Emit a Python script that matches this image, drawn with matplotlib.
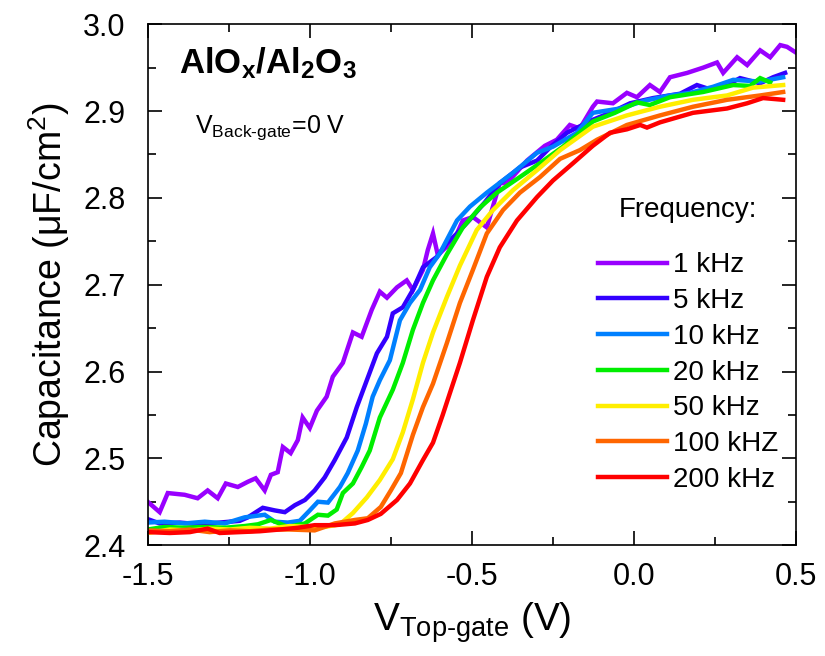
import numpy as np
import matplotlib
matplotlib.use('Agg')
import matplotlib.pyplot as plt
from matplotlib.ticker import MultipleLocator

#%% style
plt.rcParams['font.family'] = ['Liberation Sans', 'DejaVu Sans']
plt.rcParams['mathtext.fontset'] = 'custom'
plt.rcParams['mathtext.rm'] = 'Liberation Sans'
plt.rcParams['mathtext.it'] = 'Liberation Sans:italic'
plt.rcParams['mathtext.bf'] = 'Liberation Sans:bold'
plt.rcParams['mathtext.sf'] = 'Liberation Sans'
plt.rcParams['mathtext.default'] = 'rm'

#%% data
labels = ['1 kHz', '5 kHz', '10 kHz', '20 kHz', '50 kHz', '100 kHZ', '200 kHz']
colors = ['#9900ff', '#3300ff', '#0080ff', '#00ee00', '#ffee00', '#ff6600', '#ff0000']

v_1k = [-1.5, -1.463, -1.438, -1.386, -1.346, -1.315, -1.284, -1.259, -1.222, -1.191,
        -1.167, -1.139, -1.120, -1.099, -1.083, -1.059, -1.037, -1.022, -1.000, -0.978,
        -0.948, -0.929, -0.898, -0.867, -0.840, -0.809, -0.784, -0.762, -0.731, -0.701,
        -0.682, -0.651, -0.636, -0.620, -0.605, -0.583, -0.559, -0.528, -0.497, -0.454,
        -0.414, -0.392, -0.330, -0.275, -0.238, -0.198, -0.167, -0.127, -0.114, -0.065,
        -0.022, 0.009, 0.049, 0.080, 0.111, 0.164, 0.213, 0.256, 0.275, 0.318,
        0.349, 0.389, 0.420, 0.451, 0.472, 0.497]
c_1k = [2.450, 2.438, 2.460, 2.458, 2.454, 2.463, 2.454, 2.471, 2.467, 2.473,
        2.477, 2.463, 2.481, 2.484, 2.513, 2.506, 2.521, 2.547, 2.535, 2.555,
        2.571, 2.594, 2.610, 2.645, 2.640, 2.671, 2.692, 2.685, 2.697, 2.705,
        2.694, 2.717, 2.740, 2.759, 2.734, 2.742, 2.748, 2.774, 2.778, 2.766,
        2.817, 2.817, 2.843, 2.860, 2.867, 2.884, 2.880, 2.905, 2.911, 2.909,
        2.921, 2.916, 2.930, 2.922, 2.939, 2.944, 2.950, 2.956, 2.944, 2.962,
        2.953, 2.970, 2.962, 2.976, 2.974, 2.968]

v_5k = [-1.5, -1.463, -1.401, -1.340, -1.278, -1.216, -1.191, -1.145, -1.108, -1.077,
        -1.046, -1.015, -0.985, -0.954, -0.923, -0.886, -0.855, -0.824, -0.793, -0.762,
        -0.744, -0.713, -0.682, -0.651, -0.608, -0.577, -0.546, -0.506, -0.460, -0.414,
        -0.352, -0.299, -0.259, -0.207, -0.127, -0.074, -0.012, 0.059, 0.142, 0.194,
        0.235, 0.287, 0.327, 0.389, 0.429, 0.466]
c_5k = [2.430, 2.425, 2.426, 2.424, 2.426, 2.428, 2.432, 2.443, 2.440, 2.438,
        2.446, 2.452, 2.463, 2.478, 2.498, 2.524, 2.559, 2.590, 2.621, 2.640,
        2.667, 2.674, 2.694, 2.720, 2.732, 2.748, 2.759, 2.775, 2.795, 2.817,
        2.835, 2.843, 2.858, 2.875, 2.890, 2.898, 2.909, 2.915, 2.920, 2.930,
        2.925, 2.930, 2.938, 2.932, 2.939, 2.944]

v_10k = [-1.5, -1.448, -1.386, -1.324, -1.262, -1.201, -1.139, -1.108, -1.068, -1.031,
         -1.000, -0.975, -0.944, -0.907, -0.883, -0.852, -0.827, -0.806, -0.784, -0.753,
         -0.722, -0.691, -0.660, -0.630, -0.599, -0.546, -0.506, -0.454, -0.373, -0.299,
         -0.250, -0.176, -0.127, -0.043, 0.034, 0.111, 0.173, 0.244, 0.306, 0.389, 0.460]
c_10k = [2.426, 2.427, 2.425, 2.427, 2.425, 2.432, 2.435, 2.427, 2.426, 2.428,
         2.440, 2.450, 2.449, 2.467, 2.483, 2.509, 2.540, 2.571, 2.590, 2.613,
         2.659, 2.679, 2.694, 2.720, 2.736, 2.774, 2.790, 2.806, 2.829, 2.852,
         2.859, 2.875, 2.898, 2.903, 2.912, 2.918, 2.921, 2.928, 2.936, 2.934, 2.939]

v_20k = [-1.5, -1.448, -1.386, -1.324, -1.262, -1.201, -1.160, -1.120, -1.068, -1.015,
         -0.975, -0.944, -0.917, -0.898, -0.867, -0.840, -0.815, -0.784, -0.744, -0.713,
         -0.682, -0.651, -0.620, -0.577, -0.528, -0.475, -0.423, -0.352, -0.290, -0.219,
         -0.127, -0.059, 0.009, 0.049, 0.111, 0.213, 0.306, 0.358, 0.389, 0.420]
c_20k = [2.418, 2.421, 2.420, 2.421, 2.420, 2.422, 2.424, 2.429, 2.421, 2.425,
         2.435, 2.434, 2.441, 2.460, 2.471, 2.490, 2.509, 2.547, 2.579, 2.610,
         2.648, 2.679, 2.705, 2.735, 2.766, 2.789, 2.806, 2.824, 2.840, 2.859,
         2.888, 2.898, 2.910, 2.907, 2.916, 2.922, 2.930, 2.929, 2.938, 2.933]

v_50k = [-1.5, -1.432, -1.370, -1.309, -1.247, -1.185, -1.123, -1.062, -1.000, -0.954,
         -0.907, -0.867, -0.824, -0.784, -0.744, -0.713, -0.682, -0.651, -0.620, -0.577,
         -0.537, -0.485, -0.435, -0.373, -0.299, -0.228, -0.127, -0.022, 0.080, 0.182,
         0.287, 0.367, 0.460]
c_50k = [2.414, 2.418, 2.417, 2.419, 2.418, 2.420, 2.419, 2.422, 2.421, 2.421,
         2.424, 2.437, 2.455, 2.475, 2.499, 2.530, 2.568, 2.610, 2.645, 2.686,
         2.722, 2.763, 2.786, 2.809, 2.832, 2.855, 2.882, 2.895, 2.905, 2.913,
         2.918, 2.927, 2.930]

v_100k = [-1.5, -1.432, -1.370, -1.309, -1.247, -1.185, -1.123, -1.062, -0.985, -0.923,
          -0.861, -0.821, -0.781, -0.750, -0.719, -0.682, -0.651, -0.620, -0.577, -0.537,
          -0.497, -0.454, -0.404, -0.352, -0.290, -0.228, -0.167, -0.114, -0.022, 0.080,
          0.182, 0.287, 0.389, 0.460]
c_100k = [2.417, 2.416, 2.418, 2.415, 2.417, 2.416, 2.418, 2.418, 2.417, 2.425,
          2.429, 2.431, 2.444, 2.463, 2.483, 2.527, 2.559, 2.586, 2.633, 2.679,
          2.717, 2.759, 2.786, 2.806, 2.824, 2.845, 2.855, 2.867, 2.884, 2.895,
          2.905, 2.913, 2.918, 2.922]

v_200k = [-1.5, -1.432, -1.370, -1.315, -1.278, -1.216, -1.154, -1.093, -1.037, -0.985,
          -0.923, -0.861, -0.821, -0.781, -0.731, -0.691, -0.651, -0.620, -0.590, -0.568,
          -0.537, -0.497, -0.454, -0.414, -0.361, -0.299, -0.250, -0.188, -0.127, -0.074,
          -0.022, 0.019, 0.040, 0.080, 0.182, 0.287, 0.349, 0.398, 0.460]
c_200k = [2.415, 2.414, 2.415, 2.419, 2.414, 2.415, 2.416, 2.418, 2.420, 2.423,
          2.423, 2.425, 2.429, 2.436, 2.452, 2.471, 2.498, 2.518, 2.550, 2.575,
          2.610, 2.659, 2.709, 2.743, 2.774, 2.801, 2.820, 2.840, 2.860, 2.875,
          2.879, 2.884, 2.881, 2.887, 2.898, 2.903, 2.909, 2.915, 2.913]

volts = [v_1k, v_5k, v_10k, v_20k, v_50k, v_100k, v_200k]
caps = [c_1k, c_5k, c_10k, c_20k, c_50k, c_100k, c_200k]

#%% plot
fig = plt.figure(figsize=(8.25, 6.56), dpi=100)
ax = fig.add_axes([0.179, 0.169, 0.786, 0.794])

for v, c, lab, col in zip(volts, caps, labels, colors):
    ax.plot(v, c, color=col, lw=3.2, label=lab, solid_joinstyle='miter')

ax.set_xlim(-1.5, 0.5)
ax.set_ylim(2.4, 3.0)
ax.xaxis.set_major_locator(MultipleLocator(0.5))
ax.xaxis.set_minor_locator(MultipleLocator(0.25))
ax.yaxis.set_major_locator(MultipleLocator(0.1))
ax.yaxis.set_minor_locator(MultipleLocator(0.05))
ax.tick_params(which='both', direction='in', top=True, right=True, width=1.2, labelsize=22)
ax.tick_params(which='major', length=10)
ax.tick_params(which='minor', length=6)
ax.tick_params(axis='x', which='major', pad=12)
ax.tick_params(axis='y', which='major', pad=16)
ax.set_xticklabels([f'{t:.1f}' for t in ax.get_xticks()])
ax.set_yticklabels([f'{t:.1f}' for t in ax.get_yticks()])
for s in ax.spines.values():
    s.set_linewidth(1.2)

ax.set_xlabel(r'V$_{\text{Top-gate}}$ (V)', fontsize=28, labelpad=6)
ax.set_ylabel(r'Capacitance ($\mu$F/cm$^2$)', fontsize=27, labelpad=8)

ax.text(0.049, 0.906, r'AlO$_\mathbf{x}$/Al$_\mathbf{2}$O$_\mathbf{3}$', transform=ax.transAxes,
        fontsize=25, fontweight='bold', va='baseline')
ax.text(0.0725, 0.791, r'V$_{\text{Back-gate}}$=0 V', transform=ax.transAxes,
        fontsize=18, va='baseline')

leg = ax.legend(title='Frequency:', loc='upper left', bbox_to_anchor=(0.694, 0.668),
                frameon=False, fontsize=20, title_fontsize=20, handlelength=2.5,
                handletextpad=0.2, labelspacing=0.35, borderpad=0, borderaxespad=0)
leg._legend_box.sep = 21

fig.savefig('out.png', dpi=100)
